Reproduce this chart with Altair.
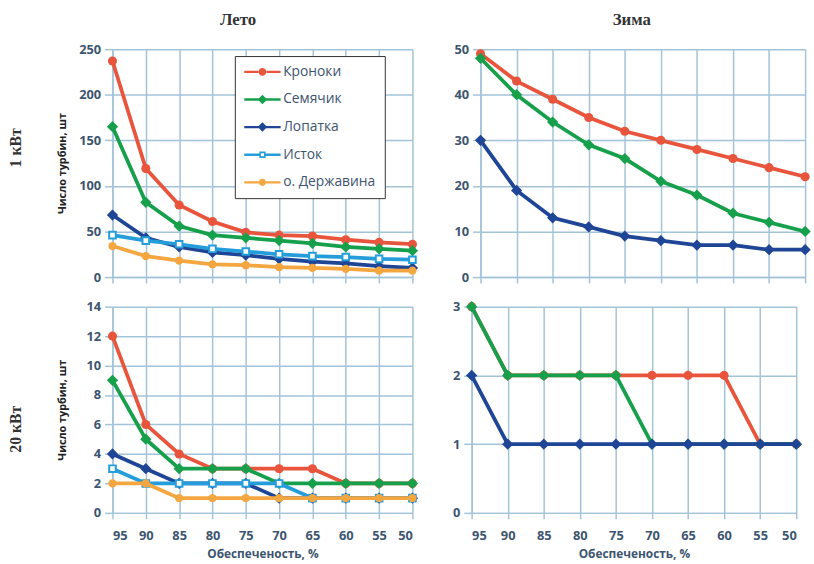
import altair as alt
import pandas as pd

x_vals = [95, 90, 85, 80, 75, 70, 65, 60, 55, 50]

series_names = ["Кроноки", "Семячик", "Лопатка", "Исток", "о. Державина"]
series_colors = ["#e8553c", "#17a04c", "#1f4596", "#259ddb", "#f4a641"]

# Лето, 1 кВт
s1_kron = [237, 119, 79, 61, 49, 46, 45, 41, 38, 36]
s1_sem = [165, 82, 56, 46, 43, 40, 37, 33, 31, 29]
s1_lop = [68, 43, 33, 27, 24, 20, 17, 15, 12, 10]
s1_ist = [46, 40, 36, 31, 28, 25, 23, 22, 20, 19]
s1_der = [34, 23, 18, 14, 13, 11, 10, 9, 7, 7]

# Зима, 1 кВт
w1_kron = [49, 43, 39, 35, 32, 30, 28, 26, 24, 22]
w1_sem = [48, 40, 34, 29, 26, 21, 18, 14, 12, 10]
w1_lop = [30, 19, 13, 11, 9, 8, 7, 7, 6, 6]

# Лето, 20 кВт
s20_kron = [12, 6, 4, 3, 3, 3, 3, 2, 2, 2]
s20_sem = [9, 5, 3, 3, 3, 2, 2, 2, 2, 2]
s20_lop = [4, 3, 2, 2, 2, 1, 1, 1, 1, 1]
s20_ist = [3, 2, 2, 2, 2, 2, 1, 1, 1, 1]
s20_der = [2, 2, 1, 1, 1, 1, 1, 1, 1, 1]

# Зима, 20 кВт
w20_kron = [3, 2, 2, 2, 2, 2, 2, 2, 1, 1]
w20_sem = [3, 2, 2, 2, 2, 1, 1, 1, 1, 1]
w20_lop = [2, 1, 1, 1, 1, 1, 1, 1, 1, 1]

GRID = "#a3c3d9"
LABEL = "#3d5570"
SANS = "Open Sans"
SERIF = "Liberation Serif"

color_of = dict(zip(series_names, series_colors))

marker_defs = {
    "Кроноки": dict(shape="circle", filled=True, size=85),
    "Семячик": dict(shape="diamond", filled=True, size=130),
    "Лопатка": dict(shape="diamond", filled=True, size=130),
    "Исток": dict(shape="square", filled=False, fill="white", size=45, strokeWidth=2),
    "о. Державина": dict(shape="circle", filled=True, size=70),
}

# legend symbols: line segment + marker (custom SVG paths)
legend_paths = [
    "M-4.6,-0.3H-0.9V0.3H-4.6Z M0.9,-0.3H4.6V0.3H0.9Z M-1,0A1,1 0 1,0 1,0A1,1 0 1,0 -1,0Z",
    "M-4.6,-0.3H-0.9V0.3H-4.6Z M0.9,-0.3H4.6V0.3H0.9Z M0,-1.2L1.2,0L0,1.2L-1.2,0Z",
    "M-4.6,-0.3H-0.9V0.3H-4.6Z M0.9,-0.3H4.6V0.3H0.9Z M0,-1.2L1.2,0L0,1.2L-1.2,0Z",
    "M-4.6,-0.3H-0.8V0.3H-4.6Z M0.8,-0.3H4.6V0.3H0.8Z M-0.8,-0.8H0.8V0.8H-0.8Z M-0.4,-0.4V0.4H0.4V-0.4Z",
    "M-4.6,-0.3H-0.9V0.3H-4.6Z M0.9,-0.3H4.6V0.3H0.9Z M-0.9,0A0.9,0.9 0 1,0 0.9,0A0.9,0.9 0 1,0 -0.9,0Z",
]

legend_def = alt.Legend(
    title=None, orient="none", legendX=124, legendY=7,
    symbolSize=64, symbolOffset=12, labelOffset=14,
    labelFont=SANS, labelFontSize=14, labelColor=LABEL,
    rowPadding=14, strokeColor="#333333", fillColor="white", padding=9,
    symbolStrokeWidth=0, symbolOpacity=1,
)


def make_df(data):
    rows = []
    for name, vals in data:
        for xv, yv in zip(x_vals, vals):
            rows.append({"x": xv, "y": yv, "series": name})
    return pd.DataFrame(rows)


def panel(data, ymax, ystep, w, h, bottom, left, title=None, legend=False):
    df = make_df(data)
    x_axis = alt.Axis(
        values=x_vals, grid=True, gridColor=GRID, gridWidth=1.5,
        domainColor=GRID, domainWidth=1.5, tickColor=GRID, tickWidth=1.5,
        tickSize=6, labels=bottom, labelFont=SANS, labelFontSize=13,
        labelColor=LABEL, labelPadding=11, labelFontWeight="bold",
        title="Обеспеченость, %" if bottom else None,
        titleFont=SANS, titleFontSize=12, titleColor=LABEL,
        titleFontWeight="bold", titlePadding=6,
    )
    y_axis = alt.Axis(
        values=list(range(0, ymax + 1, ystep)), grid=True, gridColor=GRID,
        gridWidth=1.5, domainColor=GRID, domainWidth=1.5, tickColor=GRID,
        tickWidth=1.5, tickSize=8, labelFont=SANS, labelFontSize=13,
        labelColor=LABEL, labelPadding=4, labelFontWeight="bold",
        minExtent=36 if left else 30, maxExtent=36 if left else 30,
        title="Число турбин, шт" if left else None,
        titleFont=SANS, titleFontSize=11, titleColor="#222222",
        titleFontWeight="bold", titlePadding=10,
    )
    xenc = alt.X("x:Q", scale=alt.Scale(domain=[50, 95], reverse=True, nice=False, zero=False), axis=x_axis)
    yenc = alt.Y("y:Q", scale=alt.Scale(domain=[0, ymax], nice=False), axis=y_axis)
    layers = []
    for name, _ in data:
        md = dict(marker_defs[name])
        md["color"] = color_of[name]
        layers.append(
            alt.Chart(df).transform_filter(alt.datum.series == name)
            .mark_line(strokeWidth=3.8, color=color_of[name], point=alt.OverlayMarkDef(**md))
            .encode(x=xenc, y=yenc)
        )
    if legend:
        layers.append(
            alt.Chart(df).transform_filter("false")
            .mark_point(filled=True, opacity=1)
            .encode(
                x=xenc, y=yenc,
                color=alt.Color("series:N", scale=alt.Scale(domain=series_names, range=series_colors),
                                legend=legend_def),
                shape=alt.Shape("series:N", scale=alt.Scale(domain=series_names, range=legend_paths),
                                legend=legend_def),
            )
        )
    ch = alt.layer(*layers).properties(width=w, height=h)
    if title:
        ch = ch.properties(title=alt.TitleParams(
            title, font=SERIF, fontSize=17, fontWeight="bold", color="#333333",
            anchor="middle", frame="bounds", offset=14))
    return ch


tl = panel([("Кроноки", s1_kron), ("Семячик", s1_sem), ("Лопатка", s1_lop),
            ("Исток", s1_ist), ("о. Державина", s1_der)],
           250, 50, 304, 231, False, True, title="Лето", legend=True)
tr = panel([("Кроноки", w1_kron), ("Семячик", w1_sem), ("Лопатка", w1_lop)],
           50, 10, 329, 231, False, False, title="Зима")
bl = panel([("Кроноки", s20_kron), ("Семячик", s20_sem), ("Лопатка", s20_lop),
            ("Исток", s20_ist), ("о. Державина", s20_der)],
           14, 2, 304, 209, True, True)
br = panel([("Кроноки", w20_kron), ("Семячик", w20_sem), ("Лопатка", w20_lop)],
           3, 1, 329, 209, True, False)

row_title = dict(font=SERIF, fontSize=16, fontWeight="bold", color="#333333",
                 orient="left", anchor="middle", offset=33)

row1 = alt.hconcat(tl, tr, spacing=31, title=alt.TitleParams("1 кВт", **row_title)).resolve_scale(
    color="independent", shape="independent").resolve_legend(color="independent", shape="independent")
row2 = alt.hconcat(bl, br, spacing=22, title=alt.TitleParams("20 кВт", **row_title)).resolve_scale(
    color="independent", shape="independent").resolve_legend(color="independent", shape="independent")

chart = alt.vconcat(row1, row2, spacing=15).resolve_scale(
    color="independent", shape="independent").resolve_legend(
    color="independent", shape="independent").properties(
    padding={"left": 8, "top": 8, "right": 1, "bottom": 1}, background="white"
).configure_view(stroke=None)

chart.save("out.html", embed_options={"renderer": "svg", "actions": False})
